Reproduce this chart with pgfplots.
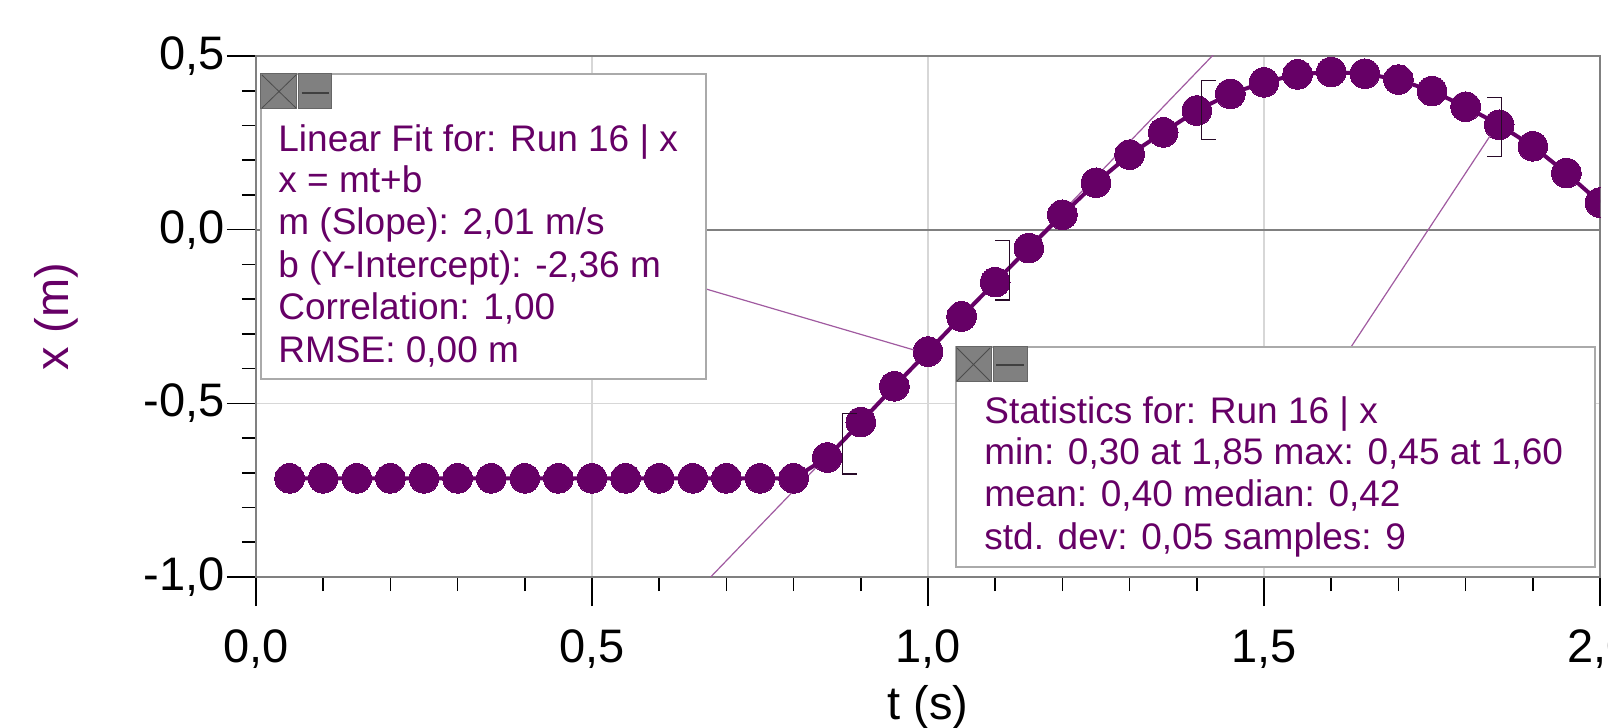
\documentclass[border=0pt]{standalone}
\usepackage{fontspec}
\setmainfont{Liberation Sans}
\usepackage{pgfplots}
\pgfplotsset{compat=1.18}
\definecolor{lp}{RGB}{102,0,102}
\definecolor{lpl}{RGB}{160,90,160}
\definecolor{gridc}{RGB}{215,215,215}
\definecolor{axc}{RGB}{128,128,128}
\definecolor{boxc}{RGB}{170,170,170}
\definecolor{btn}{RGB}{128,128,128}
\definecolor{brk}{RGB}{40,10,40}
\pgfplotstableread{
t x
0.05 -0.716
0.10 -0.716
0.15 -0.716
0.20 -0.716
0.25 -0.716
0.30 -0.716
0.35 -0.716
0.40 -0.716
0.45 -0.716
0.50 -0.716
0.55 -0.716
0.60 -0.716
0.65 -0.716
0.70 -0.716
0.75 -0.716
0.80 -0.716
0.85 -0.656
0.90 -0.554
0.95 -0.451
1.00 -0.351
1.05 -0.250
1.10 -0.151
1.15 -0.053
1.20 0.043
1.25 0.135
1.30 0.216
1.35 0.280
1.40 0.343
1.45 0.391
1.50 0.424
1.55 0.447
1.60 0.454
1.65 0.449
1.70 0.432
1.75 0.399
1.80 0.354
1.85 0.302
1.90 0.240
1.95 0.163
2.00 0.078
}\run
\newcommand{\bt}{\fontsize{18.5}{21}\selectfont}
\begin{document}
\begin{tikzpicture}
\begin{axis}[
  at={(0,0)}, anchor=south west,
  scale only axis, width=672pt, height=260.5pt,
  xmin=0, xmax=2, ymin=-1, ymax=0.5,
  xtick={0,0.5,1,1.5,2}, ytick={-1,-0.5,0,0.5},
  minor x tick num=4, minor y tick num=4,
  tick align=outside, tick pos=left,
  major tick length=14.5pt, minor tick length=7pt,
  every tick/.style={black, line width=0.8pt},
  axis line style={axc, line width=1pt},
  grid=major, major grid style={gridc, line width=0.8pt},
  /pgf/number format/use comma,
  /pgf/number format/fixed,
  /pgf/number format/fixed zerofill,
  /pgf/number format/precision=1,
  /pgf/number format/assume math mode=true,
  tick label style={font=\fontsize{23.5}{28}\selectfont, black},
  yticklabel style={inner xsep=1pt},
  xticklabel style={yshift=-8.5pt},
  clip marker paths=true,
  xlabel={t (s)}, ylabel={x (m)},
  every axis x label/.style={at={(axis description cs:0.5,-0.2495)}, anchor=center, inner sep=0pt, font=\fontsize{23.5}{28}\selectfont, text=black},
  every axis y label/.style={at={(axis description cs:-0.1488,0.5)}, rotate=90, anchor=center, inner sep=0pt, font=\fontsize{23.5}{28}\selectfont, text=lp},
]
\addplot[axc, line width=1pt, forget plot] coordinates {(0,0) (2,0)};
\addplot[lpl, line width=0.6pt, forget plot] coordinates {(0.6,-1.154) (1.5,0.655)};
\addplot[lp, line width=2pt, mark=*, mark size=7.4pt, mark options={fill=lp, draw=lp, line width=0pt}] table[x=t, y=x] {\run};
% range brackets
\draw[brk, line width=0.7pt] (axis cs:0.894,-0.530) -- (axis cs:0.873,-0.530) -- (axis cs:0.873,-0.703) -- (axis cs:0.894,-0.703);
\draw[brk, line width=0.7pt] (axis cs:1.100,-0.032) -- (axis cs:1.121,-0.032) -- (axis cs:1.121,-0.202) -- (axis cs:1.100,-0.202);
\draw[brk, line width=0.7pt] (axis cs:1.428,0.430) -- (axis cs:1.407,0.430) -- (axis cs:1.407,0.259) -- (axis cs:1.428,0.259);
\draw[brk, line width=0.7pt] (axis cs:1.832,0.381) -- (axis cs:1.853,0.381) -- (axis cs:1.853,0.210) -- (axis cs:1.832,0.210);
\end{axis}
\begin{scope}[shift={(-128pt,288.5pt)}, x=0.5pt, y=-0.5pt]
  % connector lines
  \draw[lpl, line width=0.6pt] (706,289) -- (914,350);
  \draw[lpl, line width=0.6pt] (1351,347) -- (1490,136);
  % linear fit box
  \draw[boxc, fill=white, line width=1pt] (261,74) rectangle (706,379);
  \draw[fill=btn, draw=black!60, line width=0.5pt] (261,74) rectangle (297,109);
  \draw[black!70, line width=0.4pt] (262,75) -- (296,108) (296,75) -- (262,108);
  \draw[fill=btn, draw=black!60, line width=0.5pt] (299,74) rectangle (332,109);
  \draw[black!75, line width=0.6pt] (302,93) -- (329,93);
  \begin{scope}[every node/.style={anchor=base west, inner sep=0pt, text=lp, font=\bt}]
    \node at (278,152) {Linear Fit for: Run 16 | x};
    \node at (278,193) {x = mt+b};
    \node at (278,235) {m (Slope): 2,01 m/s};
    \node at (278,278) {b (Y-Intercept): -2,36 m};
    \node at (278,320) {Correlation: 1,00};
    \node at (278,363) {RMSE: 0,00 m};
  \end{scope}
  % statistics box
  \draw[boxc, fill=white, line width=1pt] (956,347) rectangle (1595,567);
  \draw[fill=btn, draw=black!60, line width=0.5pt] (956,347) rectangle (991,382);
  \draw[black!70, line width=0.4pt] (957,348) -- (990,381) (990,348) -- (957,381);
  \draw[fill=btn, draw=black!60, line width=0.5pt] (993,347) rectangle (1027,382);
  \draw[black!75, line width=0.6pt] (996,365) -- (1024,365);
  \begin{scope}[every node/.style={anchor=base west, inner sep=0pt, text=lp, font=\bt}]
    \node at (984,424) {Statistics for: Run 16 | x};
    \node at (984,465) {min: 0,30 at 1,85 max: 0,45 at 1,60};
    \node at (984,507) {mean: 0,40 median: 0,42};
    \node at (984,550) {std. dev: 0,05 samples: 9};
  \end{scope}
\end{scope}
\pgfresetboundingbox
\path[use as bounding box] (-128pt,-75.5pt) rectangle (676pt,288.5pt);
\end{tikzpicture}
\end{document}
